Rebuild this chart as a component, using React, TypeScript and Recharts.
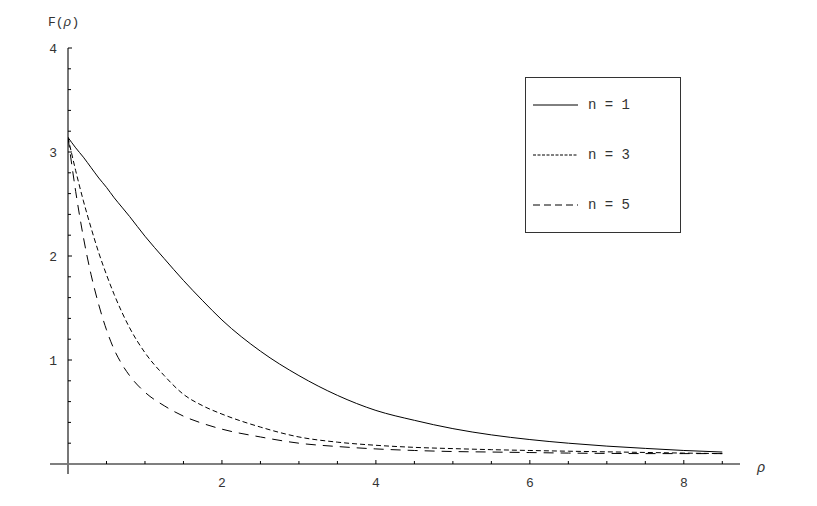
import { LineChart, Line, XAxis, YAxis, ReferenceLine } from 'recharts'

const rho = [0, 0.1, 0.2, 0.3, 0.4, 0.5, 0.6, 0.7, 0.8, 1.0, 1.25, 1.5, 1.75, 2, 2.5, 3, 3.5, 4, 4.5, 5, 5.5, 6, 6.5, 7, 7.5, 8, 8.5]
const n1 = [3.14, 3.04, 2.95, 2.85, 2.75, 2.66, 2.56, 2.47, 2.38, 2.19, 1.975, 1.765, 1.57, 1.385, 1.085, 0.85, 0.66, 0.515, 0.42, 0.34, 0.28, 0.235, 0.2, 0.172, 0.15, 0.13, 0.115]
const n3 = [3.14, 2.82, 2.53, 2.27, 2.03, 1.82, 1.63, 1.46, 1.31, 1.07, 0.85, 0.67, 0.56, 0.48, 0.355, 0.26, 0.21, 0.18, 0.16, 0.148, 0.138, 0.13, 0.123, 0.117, 0.111, 0.105, 0.1]
const n5 = [3.14, 2.62, 2.18, 1.82, 1.53, 1.29, 1.1, 0.96, 0.85, 0.69, 0.56, 0.46, 0.39, 0.335, 0.26, 0.2, 0.168, 0.145, 0.13, 0.12, 0.115, 0.11, 0.105, 0.102, 0.1, 0.1, 0.1]

const xTicks = [0.5, 1, 1.5, 2, 2.5, 3, 3.5, 4, 4.5, 5, 5.5, 6, 6.5, 7, 7.5, 8, 8.5]
const xLabels = [2, 4, 6, 8]
const yTicks = [0.2, 0.4, 0.6, 0.8, 1, 1.2, 1.4, 1.6, 1.8, 2, 2.2, 2.4, 2.6, 2.8, 3, 3.2, 3.4, 3.6, 3.8, 4]
const yLabels = [1, 2, 3, 4]

const legendItems = [
  { label: 'n = 1', dash: undefined },
  { label: 'n = 3', dash: '3 1.5' },
  { label: 'n = 5', dash: '7 4' },
]

const data = rho.map((r, i) => ({ rho: r, n1: n1[i], n3: n3[i], n5: n5[i] }))

const FONT = '"Liberation Mono", "Courier New", monospace'

function XTick({ x, y, payload }: any) {
  const v = payload.value
  const major = xLabels.includes(v)
  return (
    <g>
      <line x1={x} x2={x} y1={y} y2={y - (major ? 4 : 3)} stroke="#000" />
      {major && (
        <text x={x} y={y + 23} textAnchor="middle" fontFamily={FONT} fontSize={13} fill="#333">{v}</text>
      )}
    </g>
  )
}

function YTick({ x, y, payload }: any) {
  const v = payload.value
  const major = yLabels.includes(v)
  return (
    <g>
      <line x1={x} x2={x + (major ? 4 : 3)} y1={y} y2={y} stroke="#000" />
      {major && (
        <text x={x - 11} y={y + 5} textAnchor="end" fontFamily={FONT} fontSize={13} fill="#333">{v}</text>
      )}
    </g>
  )
}

function LegendBox() {
  return (
    <div style={{ position: 'absolute', left: 525, top: 77, width: 156, height: 156, border: '1.5px solid #333', background: '#fff', boxSizing: 'border-box', paddingTop: 2 }}>
      {legendItems.map(it => (
        <div key={it.label} style={{ display: 'flex', alignItems: 'center', height: 50 }}>
          <svg width={55} height={10} style={{ marginLeft: 7 }}>
            <line x1={0} x2={45} y1={5} y2={5} stroke="#000" strokeWidth={1} strokeDasharray={it.dash} />
          </svg>
          <span style={{ fontFamily: FONT, fontSize: 14, color: '#333', whiteSpace: 'pre' }}>{it.label}</span>
        </div>
      ))}
    </div>
  )
}

export default function App() {
  return (
    <div style={{ position: 'absolute', left: 0, top: 0, width: 817, height: 506, background: '#fff' }}>
      <LineChart width={817} height={506} data={data} margin={{ top: 48, right: 77, left: 67, bottom: 41 }}>
        <XAxis
          dataKey="rho"
          type="number"
          domain={[0, 8.73]}
          ticks={xTicks}
          axisLine={false}
          tickLine={false}
          tickSize={0}
          tickMargin={0}
          height={1}
          tick={(p: any) => <XTick {...p} />}
          interval={0}
          allowDataOverflow
        />
        <YAxis
          type="number"
          domain={[0, 4]}
          ticks={yTicks}
          axisLine={false}
          tickLine={false}
          tickSize={0}
          tickMargin={0}
          width={1}
          tick={(p: any) => <YTick {...p} />}
          interval={0}
          allowDataOverflow
        />
        <ReferenceLine segment={[{ x: -0.234, y: 0 }, { x: 8.73, y: 0 }]} stroke="#000" strokeWidth={1.2} ifOverflow="visible" />
        <ReferenceLine segment={[{ x: 0, y: -0.096 }, { x: 0, y: 4 }]} stroke="#777" strokeWidth={2} ifOverflow="visible" />
        <Line type="monotone" dataKey="n1" stroke="#000" strokeWidth={1} dot={false} isAnimationActive={false} />
        <Line type="monotone" dataKey="n3" stroke="#000" strokeWidth={1} strokeDasharray="5 3" dot={false} isAnimationActive={false} />
        <Line type="monotone" dataKey="n5" stroke="#000" strokeWidth={1} strokeDasharray="10 7" dot={false} isAnimationActive={false} />
        <text x={48} y={26} fontFamily={FONT} fontSize={13} fill="#333">F(<tspan fontStyle="italic">ρ</tspan>)</text>
        <text x={757} y={472} fontFamily={FONT} fontSize={14} fontStyle="italic" fill="#333">ρ</text>
      </LineChart>
      <LegendBox />
    </div>
  )
}
